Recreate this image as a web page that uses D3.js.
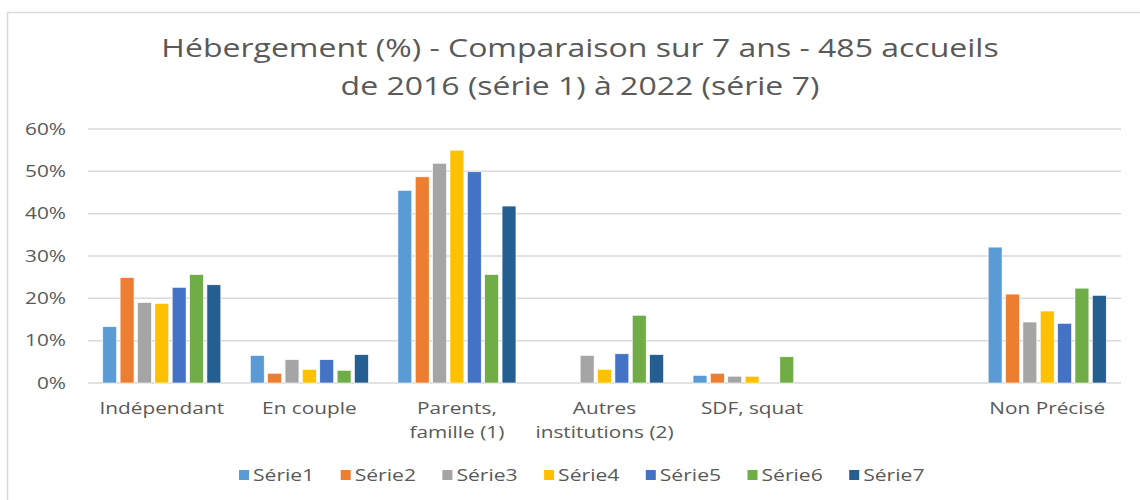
<!DOCTYPE html>
<html>
<head>
<meta charset="utf-8">
<script src="https://cdn.jsdelivr.net/npm/d3@7"></script>
<style>
  body { margin: 0; background: #fff; }
  text { font-family: "Open Sans", sans-serif; fill: #595959; }
</style>
</head>
<body>
<div id="chart"></div>
<script>
const categories = ["Indépendant", "En couple", "Parents, famille (1)", "Autres institutions (2)", "SDF, squat", "", "Non Précisé"];
const categoryLines = [["Indépendant"], ["En couple"], ["Parents,", "famille (1)"], ["Autres", "institutions (2)"], ["SDF, squat"], [""], ["Non Précisé"]];
const seriesNames = ["Série1", "Série2", "Série3", "Série4", "Série5", "Série6", "Série7"];
const seriesColors = ["#5B9BD5", "#ED7D31", "#A5A5A5", "#FFC000", "#4472C4", "#70AD47", "#255E91"];
// one array per series, values in %
const serie1 = [13.3, 6.5, 45.5, 0, 1.8, 0, 32.1];
const serie2 = [24.9, 2.3, 48.7, 0, 2.3, 0, 21.0];
const serie3 = [19.0, 5.5, 51.9, 6.5, 1.6, 0, 14.4];
const serie4 = [18.8, 3.2, 55.0, 3.2, 1.6, 0, 17.0];
const serie5 = [22.6, 5.5, 49.9, 6.9, 0, 0, 14.1];
const serie6 = [25.6, 3.0, 25.6, 16.0, 6.2, 0, 22.4];
const serie7 = [23.2, 6.7, 41.8, 6.7, 0, 0, 20.7];
const allSeries = [serie1, serie2, serie3, serie4, serie5, serie6, serie7];
const yTicks = [0, 10, 20, 30, 40, 50, 60];
const titleLines = ["Hébergement (%) - Comparaison sur 7 ans - 485 accueils", "de 2016 (série 1) à 2022 (série 7)"];

const width = 1140, height = 500;
const margin = { left: 88, right: 19, top: 129, bottom: 117 };

const svg = d3.select("#chart").append("svg")
  .attr("width", width).attr("height", height);

// chart frame
svg.append("rect")
  .attr("x", 7.5).attr("y", 12.5)
  .attr("width", width + 10).attr("height", height)
  .attr("fill", "none").attr("stroke", "#d9d9d9").attr("stroke-width", 1.5);

// the source text is drawn wider than normal, so stretch it horizontally
function wideText(sel, x, y, str, size, anchor, stretch) {
  return sel.append("text")
    .attr("transform", "translate(" + x + "," + y + ") scale(" + stretch + ",1)")
    .attr("text-anchor", anchor)
    .style("font-size", size + "px")
    .text(str);
}

// title
titleLines.forEach(function(t, i) {
  wideText(svg, 580, 57 + i * 38, t, 25, "middle", 1.28);
});

const x0 = d3.scaleBand()
  .domain(categories)
  .range([margin.left, width - margin.right])
  .paddingInner(0.2)
  .paddingOuter(0.1);

const x1 = d3.scaleBand()
  .domain(seriesNames)
  .range([0, x0.bandwidth()])
  .paddingInner(0.2);

const y = d3.scaleLinear()
  .domain([0, 60])
  .range([height - margin.bottom, margin.top]);

// gridlines
svg.append("g")
  .selectAll("line")
  .data(yTicks)
  .enter()
  .append("line")
  .attr("x1", margin.left)
  .attr("x2", width - margin.right)
  .attr("y1", d => y(d))
  .attr("y2", d => y(d))
  .attr("stroke", "#d9d9d9")
  .attr("stroke-width", 1.5);

// y tick labels
yTicks.forEach(function(d) {
  wideText(svg, 66, y(d) + 5.5, d + "%", 16, "end", 1.3);
});

// bars
const groups = svg.append("g")
  .selectAll("g")
  .data(categories)
  .enter()
  .append("g")
  .attr("transform", d => "translate(" + x0(d) + ",0)");

groups.selectAll("rect")
  .data((c, ci) => seriesNames.map((s, si) => ({ s: s, si: si, v: allSeries[si][ci] })))
  .enter()
  .filter(d => d.v > 0)
  .append("rect")
  .attr("x", d => x1(d.s))
  .attr("width", x1.bandwidth())
  .attr("y", d => y(d.v))
  .attr("height", d => y(0) - y(d.v))
  .attr("fill", d => seriesColors[d.si])
  .attr("stroke", "#fff")
  .attr("stroke-width", 0.6);

// category labels
categories.forEach(function(c, i) {
  const cx = x0(c) + x0.bandwidth() / 2;
  categoryLines[i].forEach(function(line, j) {
    wideText(svg, cx, 414 + j * 24, line, 16, "middle", 1.3);
  });
});

// legend
const legendStart = 244, legendStep = 101.7;
seriesNames.forEach(function(s, i) {
  const lx = legendStart + i * legendStep;
  svg.append("rect")
    .attr("x", lx - 5).attr("y", 470)
    .attr("width", 10).attr("height", 10)
    .attr("fill", seriesColors[i]);
  wideText(svg, lx + 9, 481, s, 16, "start", 1.32);
});
</script>
</body>
</html>
